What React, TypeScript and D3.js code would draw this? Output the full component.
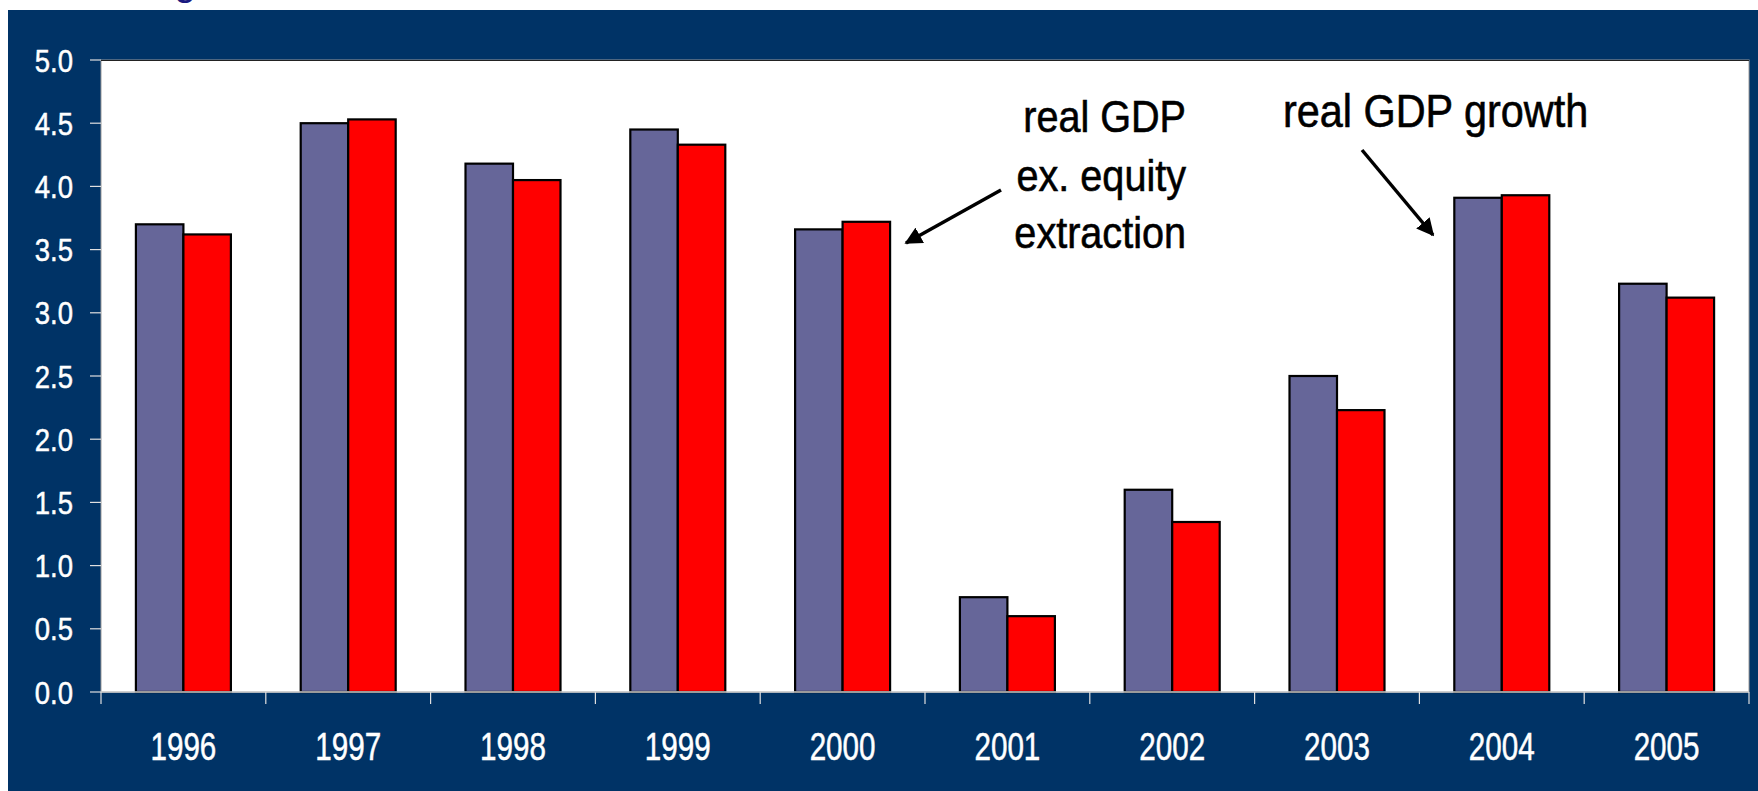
import React from "react";
import * as d3 from "d3";

const years = ["1996", "1997", "1998", "1999", "2000", "2001", "2002", "2003", "2004", "2005"];
const realGdpGrowth = [3.70, 4.50, 4.18, 4.45, 3.66, 0.75, 1.60, 2.50, 3.91, 3.23];
const exEquityExtraction = [3.62, 4.53, 4.05, 4.33, 3.72, 0.60, 1.345, 2.23, 3.93, 3.12];
const yTicks = [0, 0.5, 1, 1.5, 2, 2.5, 3, 3.5, 4, 4.5, 5];
const seriesNames = ["real GDP growth", "real GDP ex. equity extraction"];
const seriesColors = ["#666699", "#FF0000"];

const W = 1758;
const H = 791;
const plot = { left: 101, right: 1749, top: 60, bottom: 692 };
const sans = "'Liberation Sans', Arial, sans-serif";

function SText(props: {
  x: number;
  y: number;
  sx: number;
  size: number;
  anchor?: "start" | "middle" | "end";
  fill?: string;
  dy?: string;
  weight?: number;
  children: React.ReactNode;
}) {
  const fill = props.fill || "#000";
  return (
    <text
      transform={`translate(${props.x},${props.y}) scale(${props.sx},1)`}
      textAnchor={props.anchor || "start"}
      fontFamily={sans}
      fontSize={props.size}
      fill={fill}
      stroke={fill}
      strokeWidth={props.weight ?? 0.5}
      dy={props.dy}
    >
      {props.children}
    </text>
  );
}

export default function App() {
  const x0 = d3.scaleBand<string>().domain(years).range([plot.left, plot.right]).padding(0);
  const x1 = d3
    .scaleBand<string>()
    .domain(seriesNames)
    .range([0, x0.bandwidth()])
    .paddingInner(0)
    .paddingOuter(0.735);
  const y = d3.scaleLinear().domain([0, 5]).range([plot.bottom, plot.top]);
  const series = [realGdpGrowth, exEquityExtraction];
  const tickPositions = [...years.map((yr) => x0(yr) as number), plot.right];

  return (
    <svg
      width={W}
      height={H}
      style={{ position: "absolute", left: 0, top: 0, display: "block" }}
      xmlns="http://www.w3.org/2000/svg"
    >
      <defs>
        <marker id="arrowHead" viewBox="0 0 10 10" refX="9" refY="5" markerWidth="5" markerHeight="5" orient="auto" markerUnits="strokeWidth">
          <path d="M0,0 L10,5 L0,10 z" fill="#000" />
        </marker>
      </defs>
      <rect x={0} y={0} width={W} height={H} fill="#ffffff" />
      <text x={174} y={-5} fontFamily={sans} fontSize={40} fill="#1a1a80">g</text>
      <rect x={8} y={10} width={W - 8} height={H - 10} fill="#003366" />
      <rect
        x={plot.left}
        y={plot.top}
        width={plot.right - plot.left}
        height={plot.bottom - plot.top}
        fill="#ffffff"
        stroke="#9a9a9a"
        strokeWidth={1}
      />
      <line x1={plot.left} x2={plot.right} y1={plot.top + 0.5} y2={plot.top + 0.5} stroke="#222" strokeWidth={1} />

      {years.map((yr, i) =>
        series.map((vals, s) => (
          <rect
            key={yr + s}
            x={(x0(yr) as number) + (x1(seriesNames[s]) as number)}
            y={y(vals[i])}
            width={x1.bandwidth()}
            height={y(0) - y(vals[i])}
            fill={seriesColors[s]}
            stroke="#000"
            strokeWidth={2.2}
          />
        ))
      )}

      <line x1={plot.left} x2={plot.right} y1={y(0)} y2={y(0)} stroke="#cfcfcf" strokeWidth={1.5} />

      {yTicks.map((t) => (
        <g key={t}>
          <line x1={plot.left - 11} x2={plot.left} y1={y(t)} y2={y(t)} stroke="#e0e0e0" strokeWidth={1.2} />
          <SText x={73} y={y(t)} sx={0.86} size={32} anchor="end" fill="#ffffff" dy="0.36em">
            {t.toFixed(1)}
          </SText>
        </g>
      ))}

      {tickPositions.map((px, i) => (
        <line key={i} x1={px} x2={px} y1={y(0)} y2={y(0) + 12} stroke="#e0e0e0" strokeWidth={1.2} />
      ))}
      {years.map((yr) => (
        <SText key={yr} x={(x0(yr) as number) + x0.bandwidth() / 2} y={760} sx={0.78} size={38} anchor="middle" fill="#ffffff">
          {yr}
        </SText>
      ))}

      <SText x={1186} y={132} sx={0.9} size={44} anchor="end" weight={0.6}>real GDP</SText>
      <SText x={1186} y={191} sx={0.9} size={44} anchor="end" weight={0.6}>ex. equity</SText>
      <SText x={1186} y={248} sx={0.9} size={44} anchor="end" weight={0.6}>extraction</SText>
      <SText x={1283} y={127} sx={0.9} size={46} weight={0.6}>real GDP growth</SText>

      <line x1={1001} y1={190} x2={906} y2={243} stroke="#000" strokeWidth={3.5} markerEnd="url(#arrowHead)" />
      <line x1={1362} y1={150} x2={1433} y2={235} stroke="#000" strokeWidth={3.5} markerEnd="url(#arrowHead)" />
    </svg>
  );
}
